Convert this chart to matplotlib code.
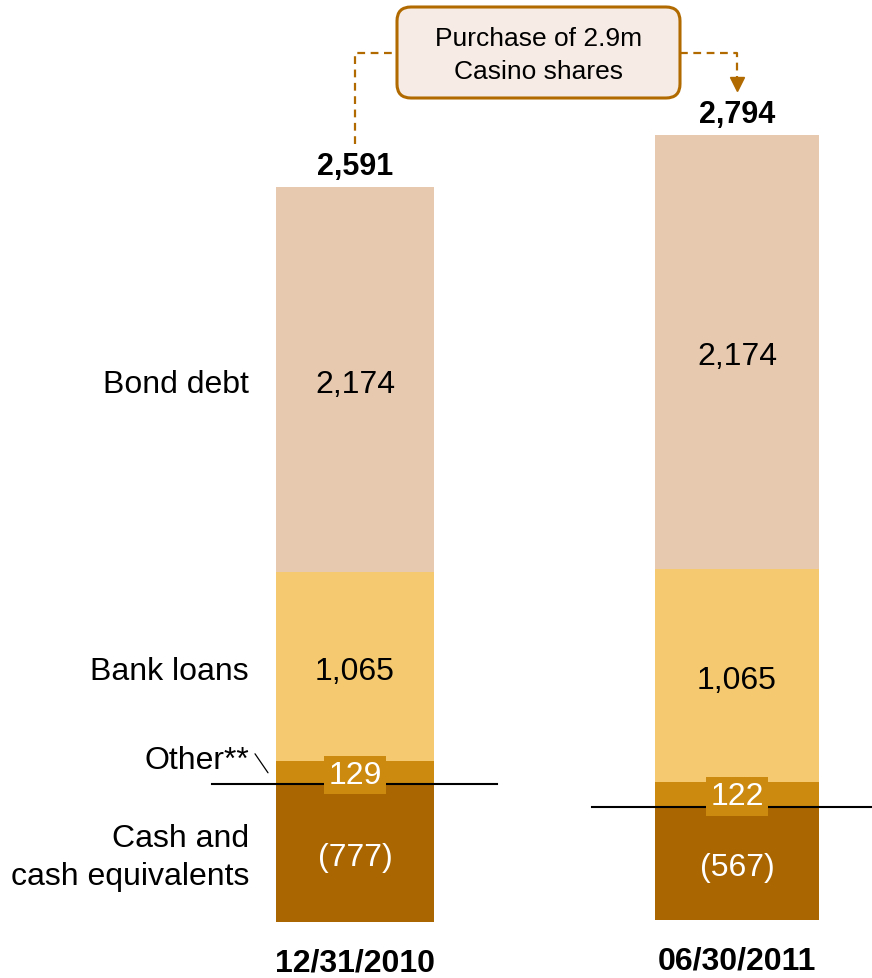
import matplotlib
matplotlib.use("Agg")
import matplotlib.pyplot as plt
from matplotlib.patches import FancyBboxPatch

plt.rcParams['font.family'] = ['Liberation Sans', 'DejaVu Sans']

# net debt breakdown, EUR m
dates = ["12/31/2010", "06/30/2011"]
cash = [-777, -567]
other = [129, 122]
bank_loans = [1065, 1065]
bond_debt = [2174, 2174]
segment_names = ["Cash and\ncash equivalents", "Other**", "Bank loans", "Bond debt"]
note = "Purchase of 2.9m\nCasino shares"

c_bond = "#E6C9AF"
c_bank = "#F5C970"
c_other = "#CC8A0F"
c_cash = "#AA6600"
c_link = "#B06A00"

FS = 23
DY = -4  # nudge so text sits on the optical centre
W, H = 872, 979
fig = plt.figure(figsize=(W / 100, H / 100), dpi=100)

# each bar has its own axes (pixel boxes: left, bottom, width, height)
boxes = [(276, 923, 158, 735), (655, 921, 164, 785)]
zero_span = [(-0.405, 1.399), (-0.384, 1.323)]


def fmt(v):
    return f"({abs(v):,})" if v < 0 else f"{v:,}"


def label(ax, text, xy, dx=0, dy=0, **kw):
    opts = dict(textcoords="offset pixels", ha="center", va="center",
                fontsize=FS, annotation_clip=False)
    opts.update(kw)
    return ax.annotate(text, xy=xy, xytext=(dx, dy + DY), **opts)


axes = []
for i, (l, b, w, h) in enumerate(boxes):
    ax = fig.add_axes([l / W, (H - b) / H, w / W, h / H])
    top = other[i] + bank_loans[i] + bond_debt[i]
    ax.set_xlim(-0.5, 0.5)
    ax.set_ylim(cash[i], top)
    ax.axis("off")

    ax.bar(0, cash[i], width=1, color=c_cash, zorder=1)
    ax.bar(0, other[i], width=1, color=c_other, zorder=1)
    ax.bar(0, bank_loans[i], bottom=other[i], width=1, color=c_bank, zorder=1)
    ax.bar(0, bond_debt[i], bottom=other[i] + bank_loans[i], width=1,
           color=c_bond, zorder=1)

    ax.axhline(0, xmin=zero_span[i][0], xmax=zero_span[i][1], color="black",
               lw=1.5, clip_on=False, zorder=2)

    mids = [cash[i] / 2, other[i] / 2, other[i] + bank_loans[i] / 2,
            other[i] + bank_loans[i] + bond_debt[i] / 2]
    vals = [cash[i], other[i], bank_loans[i], bond_debt[i]]
    for k, (m, v) in enumerate(zip(mids, vals)):
        if k == 1:
            label(ax, fmt(v), (0, m), dy=2, color="white", zorder=4,
                  bbox=dict(boxstyle="square,pad=0.13", fc=c_other, ec="none"))
        else:
            label(ax, fmt(v), (0, m), color="white" if v < 0 else "black",
                  zorder=4)

    net = cash[i] + top
    label(ax, f"{net:,}", (0, top), dy=25, fontsize=FS - 1, fontweight="bold")
    label(ax, dates[i], (0, cash[i]), dy=-37, fontweight="bold")

    if i == 0:
        for k, m in enumerate(mids):
            dy = 17 if k == 1 else 0
            label(ax, segment_names[k], (-0.5, m), dx=-27, dy=dy, ha="right",
                  linespacing=1.33)
        # leader from "Other**" to its segment
        ax.annotate("", xy=(-0.5 - 8 / w, mids[1]), xytext=(-13, 19),
                    textcoords="offset pixels", annotation_clip=False,
                    arrowprops=dict(arrowstyle="-", color="black", lw=0.9,
                                    shrinkA=0, shrinkB=0))
    axes.append((ax, top))

# overlay in pixel units for the callout
ov = fig.add_axes([0, 0, 1, 1], zorder=5)
ov.set_xlim(0, W)
ov.set_ylim(H, 0)
ov.axis("off")
ov.patch.set_alpha(0)


def to_px(ax, x, y):
    return ov.transData.inverted().transform(ax.transData.transform((x, y)))


bx0, by0, bx1, by1 = 397, 8, 680, 99
ov.add_patch(FancyBboxPatch((bx0 + 10, by0 + 10), bx1 - bx0 - 20, by1 - by0 - 20,
                            boxstyle="round,pad=10,rounding_size=14",
                            fc="#F6ECE5", ec=c_link, lw=2.2))
ymid = (by0 + by1) / 2
ov.text((bx0 + bx1) / 2, ymid + 2, note, ha="center", va="center",
        fontsize=19, linespacing=1.45)

lx, ly = to_px(axes[0][0], 0, axes[0][1])
rx, ry = to_px(axes[1][0], 0, axes[1][1])
dash = dict(color=c_link, lw=1.6, linestyle=(0, (3.5, 2.5)))
ov.plot([lx, lx, bx0], [ly - 43, ymid, ymid], **dash)
ov.plot([bx1, rx, rx], [ymid, ymid, ry - 58], **dash)
ov.plot(rx, ry - 51, marker="v", ms=10.5, color=c_link, mec=c_link)

fig.savefig("out.png", dpi=100)
